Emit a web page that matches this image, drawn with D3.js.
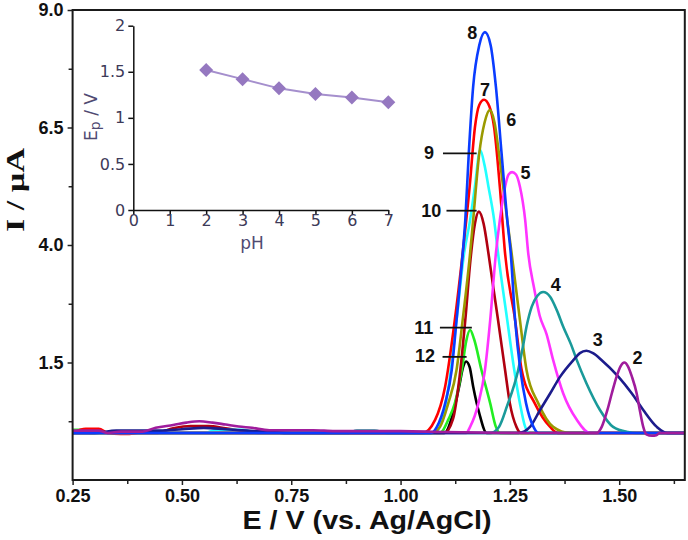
<!DOCTYPE html>
<html><head><meta charset="utf-8">
<script src="https://cdn.jsdelivr.net/npm/d3@7"></script>
<style>body{margin:0;background:#fff}svg{display:block}</style>
</head><body>
<svg id="c" width="688" height="540"></svg>
<script>
// ---------- DATA ----------
const xTicks = [0.25, 0.50, 0.75, 1.00, 1.25, 1.50];
const xMinorTicks = [0.375, 0.625, 0.875, 1.125, 1.375, 1.625];
const yTicks = [1.5, 4.0, 6.5, 9.0];
const yMinorTicks = [0.25, 2.75, 5.25, 7.75];

const curveNames = ["12","11","10","9","7","6","5","4","3","8","2"];
const curveColors = ["#000000","#22ee22","#b00010","#22ffff","#ff0000","#9a9a00","#ff33ff","#1a9a9a","#1c1c8c","#0a3cff","#a01c9c"];

const c12 = [[0.25,0],[1.10,0],[1.12,0.42],[1.134,0.99],[1.143,1.4],[1.15,1.52],[1.158,1.4],[1.166,0.99],[1.18,0.42],[1.197,0],[1.65,0]];
const c11 = [[0.25,0.07],[0.27,0.07],[0.29,0],[1.09,0],[1.11,0.3],[1.124,0.63],[1.14,1.34],[1.15,1.95],[1.159,2.19],[1.168,2.0],[1.185,1.34],[1.205,0.63],[1.218,0.13],[1.228,0],[1.65,0]];
const c10 = [[0.25,0],[0.44,0],[0.48,0.1],[0.52,0.15],[0.56,0.15],[0.6,0.1],[0.64,0.04],[0.68,0],[1.10,0],[1.12,0.3],[1.135,1.2],[1.148,2.4],[1.16,3.7],[1.17,4.45],[1.179,4.71],[1.19,4.45],[1.201,3.82],[1.212,3.1],[1.223,2.4],[1.239,1.34],[1.25,0.63],[1.265,0.13],[1.275,0],[1.65,0]];
const c9 = [[0.25,0],[0.55,0],[0.58,0.07],[0.64,0.07],[0.67,0],[1.08,0],[1.09,0.15],[1.11,1.0],[1.128,2.4],[1.145,3.8],[1.159,4.53],[1.17,5.24],[1.182,6.02],[1.192,5.7],[1.201,5.24],[1.214,4.53],[1.223,3.82],[1.244,2.4],[1.26,1.34],[1.273,0.63],[1.285,0.13],[1.295,0],[1.65,0]];
const c7 = [[0.25,0],[0.28,0.09],[0.31,0.09],[0.33,0],[0.36,-0.02],[0.38,-0.02],[0.40,0],[1.05,0],[1.079,0.28],[1.102,0.99],[1.124,2.4],[1.142,3.82],[1.158,5.24],[1.17,6.5],[1.18,6.98],[1.191,7.09],[1.203,6.95],[1.214,6.5],[1.227,5.24],[1.239,3.82],[1.262,2.4],[1.277,1.34],[1.307,0.63],[1.342,0.13],[1.36,0],[1.65,0]];
const c6 = [[0.25,0],[1.07,0],[1.09,0.13],[1.109,0.63],[1.128,1.34],[1.142,2.4],[1.159,3.82],[1.166,4.53],[1.18,5.95],[1.192,6.6],[1.204,6.87],[1.215,6.6],[1.225,5.95],[1.244,4.53],[1.254,3.82],[1.273,2.4],[1.288,1.34],[1.315,0.63],[1.349,0.13],[1.387,0],[1.65,0]];
const c5 = [[0.25,0],[1.15,0],[1.159,0.13],[1.178,0.63],[1.193,1.34],[1.205,2.4],[1.218,3.82],[1.227,4.53],[1.239,5.24],[1.247,5.5],[1.255,5.55],[1.264,5.5],[1.273,5.24],[1.285,4.53],[1.292,3.82],[1.305,3.1],[1.318,2.5],[1.334,2.1],[1.349,1.55],[1.372,0.84],[1.403,0.28],[1.433,0],[1.65,0]];
const c4 = [[0.25,0],[0.88,0],[0.9,0.05],[0.94,0.05],[0.97,0],[1.205,0],[1.225,0.13],[1.243,0.56],[1.269,1.34],[1.28,1.85],[1.288,2.26],[1.30,2.69],[1.313,2.92],[1.326,3.0],[1.342,2.9],[1.357,2.62],[1.372,2.26],[1.39,1.88],[1.403,1.55],[1.425,1.06],[1.456,0.49],[1.486,0.13],[1.52,0.02],[1.54,0],[1.65,0]];
const c3 = [[0.25,0],[0.30,0],[0.35,0.05],[0.45,0.05],[0.5,0.08],[0.55,0.11],[0.6,0.08],[0.65,0.05],[0.70,0.02],[0.75,0],[1.27,0],[1.296,0.13],[1.319,0.49],[1.342,0.84],[1.365,1.2],[1.395,1.55],[1.41,1.7],[1.425,1.75],[1.44,1.7],[1.46,1.55],[1.498,1.2],[1.529,0.84],[1.555,0.49],[1.586,0.13],[1.61,0],[1.65,0]];
const c8 = [[0.25,0],[1.07,0],[1.083,0.13],[1.102,0.63],[1.117,1.34],[1.128,2.4],[1.14,3.6],[1.148,4.53],[1.156,5.95],[1.166,7.37],[1.18,8.25],[1.193,8.53],[1.206,8.25],[1.218,7.37],[1.231,5.95],[1.244,4.53],[1.252,3.82],[1.262,2.4],[1.274,1.34],[1.287,0.63],[1.304,0.13],[1.315,0],[1.65,0]];
const c2 = [[0.25,0.05],[0.31,0.05],[0.33,0.0],[0.36,0.03],[0.41,0.03],[0.44,0.11],[0.48,0.17],[0.51,0.22],[0.54,0.25],[0.57,0.22],[0.60,0.18],[0.63,0.14],[0.66,0.11],[0.70,0.06],[0.80,0.06],[0.85,0.04],[1.00,0.04],[1.10,0.02],[1.30,0],[1.449,0],[1.46,0.13],[1.473,0.49],[1.483,0.84],[1.494,1.2],[1.503,1.42],[1.512,1.5],[1.52,1.42],[1.529,1.2],[1.54,0.84],[1.547,0.49],[1.555,0.13],[1.562,-0.03],[1.575,-0.06],[1.585,-0.05],[1.592,0],[1.65,0]];
const curveData = [c12,c11,c10,c9,c7,c6,c5,c4,c3,c8,c2];

// peak labels: [text, E, I]
const peakLabels = [["8",1.164,8.51],["7",1.193,7.30],["6",1.253,6.67],["5",1.286,5.53],["9",1.065,5.96],["10",1.070,4.73],["11",1.053,2.24],["12",1.056,1.64],["4",1.355,3.15],["3",1.451,1.97],["2",1.542,1.60]];
// leader lines: [E1, E2, I]
const leaders = [[1.097,1.174,5.95],[1.105,1.174,4.73],[1.090,1.163,2.24],[1.096,1.151,1.62]];

// inset
const insetPH = [2,3,4,5,6,7];
const insetEp = [1.52,1.42,1.32,1.26,1.22,1.17];
const insetXTicks = [0,1,2,3,4,5,6,7];
const insetYTicks = [0,0.5,1,1.5,2];

// ---------- DRAW ----------
const svg = d3.select("#c");
svg.append("rect").attr("width",688).attr("height",540).attr("fill","#fff");

const x = d3.scaleLinear().domain([0.25,1.65]).range([72.6,684.8]);
const y = d3.scaleLinear().domain([-1,9]).range([480,10]);

svg.append("defs").append("clipPath").attr("id","clip")
  .append("rect").attr("x",x(0.25)).attr("y",y(9)).attr("width",x(1.65)-x(0.25)).attr("height",y(-1)-y(9));

// axes
const axFont = "'Liberation Sans', Arial, sans-serif";
const gy = svg.append("g").attr("transform",`translate(${x(0.25)},0)`)
  .call(d3.axisLeft(y).tickValues(yTicks).tickFormat(d3.format(".1f")).tickSize(5).tickPadding(4).tickSizeOuter(0));
gy.select(".domain").remove();
gy.selectAll("text").attr("font-family",axFont).attr("font-weight","bold").attr("font-size",18).attr("fill","#111");
gy.selectAll("line").attr("stroke","#222").attr("stroke-width",1.5);
const gym = svg.append("g").attr("transform",`translate(${x(0.25)},0)`)
  .call(d3.axisLeft(y).tickValues(yMinorTicks).tickFormat("").tickSize(4).tickSizeOuter(0));
gym.select(".domain").remove();
gym.selectAll("line").attr("stroke","#222").attr("stroke-width",1.5);

const gx = svg.append("g").attr("transform",`translate(0,${y(-1)})`)
  .call(d3.axisBottom(x).tickValues(xTicks).tickFormat(d3.format(".2f")).tickSize(5).tickPadding(4).tickSizeOuter(0));
gx.select(".domain").remove();
gx.selectAll("text").attr("font-family",axFont).attr("font-weight","bold").attr("font-size",18).attr("fill","#111");
gx.selectAll("line").attr("stroke","#222").attr("stroke-width",1.5);
const gxm = svg.append("g").attr("transform",`translate(0,${y(-1)})`)
  .call(d3.axisBottom(x).tickValues(xMinorTicks).tickFormat("").tickSize(4).tickSizeOuter(0));
gxm.select(".domain").remove();
gxm.selectAll("line").attr("stroke","#222").attr("stroke-width",1.5);

// curves
const line = d3.line().x(d=>x(d[0])).y(d=>y(d[1])).curve(d3.curveMonotoneX);
const gc = svg.append("g").attr("clip-path","url(#clip)");
curveData.forEach((data,i)=>{
  gc.append("path").datum(data).attr("d",line).attr("fill","none")
    .attr("stroke",curveColors[i]).attr("stroke-width",2.6).attr("stroke-linejoin","round");
});

// frame
svg.append("rect").attr("x",x(0.25)).attr("y",y(9)).attr("width",x(1.65)-x(0.25)).attr("height",y(-1)-y(9))
  .attr("fill","none").attr("stroke","#1a1a1a").attr("stroke-width",2);

// peak labels
svg.append("g").selectAll("text").data(peakLabels).join("text")
  .attr("x",d=>x(d[1])).attr("y",d=>y(d[2])).attr("text-anchor","middle").attr("dominant-baseline","central")
  .attr("font-family",axFont).attr("font-weight","bold").attr("font-size",18).attr("fill","#111").text(d=>d[0]);
svg.append("g").selectAll("line").data(leaders).join("line")
  .attr("x1",d=>x(d[0])).attr("x2",d=>x(d[1])).attr("y1",d=>y(d[2])).attr("y2",d=>y(d[2]))
  .attr("stroke","#111").attr("stroke-width",1.8);

// axis titles
svg.append("text").attr("x",367).attr("y",529).attr("text-anchor","middle")
  .attr("font-family",axFont).attr("font-weight","bold").attr("font-size",26).attr("fill","#111")
  .attr("textLength",249).attr("lengthAdjust","spacingAndGlyphs").text("E / V (vs. Ag/AgCl)");
svg.append("text").attr("transform","translate(24,190) rotate(-90)").attr("text-anchor","middle")
  .attr("font-family","'Liberation Serif','Times New Roman',serif").attr("font-weight","bold").attr("font-size",25).attr("fill","#111")
  .attr("textLength",84).attr("lengthAdjust","spacingAndGlyphs").text("I / µA");

// ---------- INSET ----------
const xi = d3.scaleLinear().domain([0,7]).range([133.3,388.3]);
const yi = d3.scaleLinear().domain([0,2]).range([210,25.7]);
const inFont = "'DejaVu Sans', Verdana, sans-serif";
const inCol = "#3d3a58";
const gix = svg.append("g").attr("transform",`translate(0,${yi(0)})`)
  .call(d3.axisBottom(xi).tickValues(insetXTicks).tickFormat(d3.format("d")).tickSize(5).tickPadding(0).tickSizeOuter(0));
gix.selectAll("text").attr("font-family",inFont).attr("font-size",16).attr("fill",inCol);
gix.selectAll("line,path").attr("stroke","#111").attr("stroke-width",1.5);
const giy = svg.append("g").attr("transform",`translate(${xi(0)},0)`)
  .call(d3.axisLeft(yi).tickValues(insetYTicks).tickFormat(d=>String(d)).tickSize(5).tickPadding(3).tickSizeOuter(0));
giy.selectAll("text").attr("font-family",inFont).attr("font-size",16).attr("fill",inCol);
giy.selectAll("line,path").attr("stroke","#111").attr("stroke-width",1.5);

const insetPts = insetPH.map((p,i)=>[p,insetEp[i]]);
svg.append("path").datum(insetPts)
  .attr("d",d3.line().x(d=>xi(d[0])).y(d=>yi(d[1])))
  .attr("fill","none").attr("stroke","#a58fcd").attr("stroke-width",2);
svg.append("g").selectAll("path").data(insetPts).join("path")
  .attr("transform",d=>`translate(${xi(d[0])},${yi(d[1])})`)
  .attr("d","M0,-7L7,0L0,7L-7,0Z").attr("fill","#9578c0");

svg.append("text").attr("x",252).attr("y",249).attr("text-anchor","middle")
  .attr("font-family",inFont).attr("font-size",17).attr("fill","#4f4a72").text("pH");
const ep = svg.append("text").attr("transform","translate(97,117) rotate(-90)").attr("text-anchor","middle")
  .attr("font-family",inFont).attr("font-size",17).attr("fill","#4f4a72");
ep.append("tspan").text("E");
ep.append("tspan").attr("font-size",14).attr("dy",3).text("p");
ep.append("tspan").attr("dy",-3).text(" / V");
</script>
</body></html>
